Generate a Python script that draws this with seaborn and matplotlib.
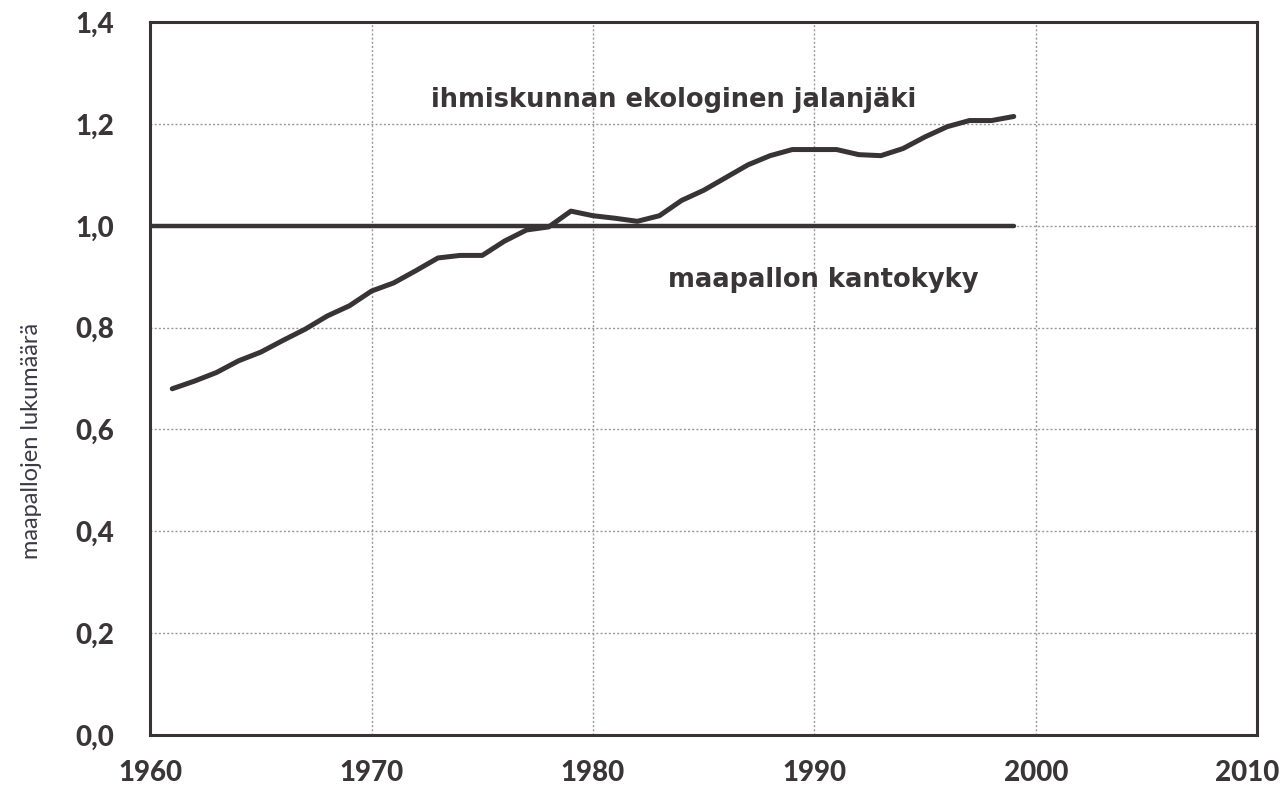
import numpy as np
import pandas as pd
import seaborn as sns
import matplotlib.pyplot as plt
import matplotlib.transforms as mtransforms

# ekologinen jalanjälki, maapalloina (luettu kuvasta)
years = list(range(1961, 2000))
footprint = [0.680, 0.695, 0.712, 0.735, 0.752, 0.775, 0.797, 0.823, 0.843, 0.872,
             0.888, 0.912, 0.937, 0.942, 0.942, 0.970, 0.992, 0.998, 1.029, 1.020,
             1.015, 1.009, 1.020, 1.050, 1.070, 1.095, 1.120, 1.138, 1.150, 1.150,
             1.150, 1.140, 1.138, 1.152, 1.175, 1.195, 1.207, 1.207, 1.215]
capacity_years = [1960, 1999]
capacity = [1.0, 1.0]

x_ticks = [1960, 1970, 1980, 1990, 2000, 2010]
y_ticks = [0.0, 0.2, 0.4, 0.6, 0.8, 1.0, 1.2, 1.4]
y_labels = ['0,0', '0,2', '0,4', '0,6', '0,8', '1,0', '1,2', '1,4']

df = pd.DataFrame({'vuosi': years, 'maapalloja': footprint})
cap = pd.DataFrame({'vuosi': capacity_years, 'maapalloja': capacity})

sns.set_style('white')
plt.rcParams['font.family'] = ['Lato', 'DejaVu Sans']

line_col = '#383436'
text_col = '#3a3638'
fig = plt.figure(figsize=(12.83, 7.97), dpi=100)
ax = fig.add_axes([0.117, 0.078, 0.863, 0.894])

sns.lineplot(data=cap, x='vuosi', y='maapalloja', ax=ax, color=line_col, lw=3.2)
sns.lineplot(data=df, x='vuosi', y='maapalloja', ax=ax, color=line_col, lw=3.6)

ax.set_xlim(1960, 2010)
ax.set_ylim(0, 1.4)
ax.set_xticks(x_ticks)
ax.set_yticks(y_ticks)
ax.set_yticklabels(y_labels)
ax.grid(True, color='#999999', ls=(0, (1.5, 1.5)), lw=1.0)
for s in ax.spines.values():
    s.set_visible(True)
    s.set_color(line_col)
    s.set_linewidth(2.2)
ax.tick_params(axis='y', direction='out', length=12, width=1.5, color=line_col,
               labelsize=20, pad=14, labelcolor=text_col)
ax.tick_params(axis='x', direction='inout', length=12, width=1.5, color=line_col,
               labelsize=20, pad=12, labelcolor=text_col)
for t in ax.get_xticklabels() + ax.get_yticklabels():
    t.set_fontweight('black')

# viimeinen vuosiluku hieman vasemmalle, ettei se leikkaudu reunasta
last = ax.get_xticklabels()[-1]
last.set_transform(last.get_transform() +
                   mtransforms.ScaledTranslation(-0.1, 0, fig.dpi_scale_trans))

ax.set_xlabel('')
ax.set_ylabel('maapallojen lukumäärä', fontsize=17, color='#3a3a44')
ax.yaxis.set_label_coords(-0.098, 0.412)

ax.text(1972.7, 1.247, 'ihmiskunnan ekologinen jalanjäki', fontsize=18.5,
        fontweight='bold', family='DejaVu Sans', color=text_col,
        va='center', ha='left')
ax.text(1983.4, 0.893, 'maapallon kantokyky', fontsize=18.5,
        fontweight='bold', family='DejaVu Sans', color=text_col,
        va='center', ha='left')

plt.savefig('out.png', dpi=100)
